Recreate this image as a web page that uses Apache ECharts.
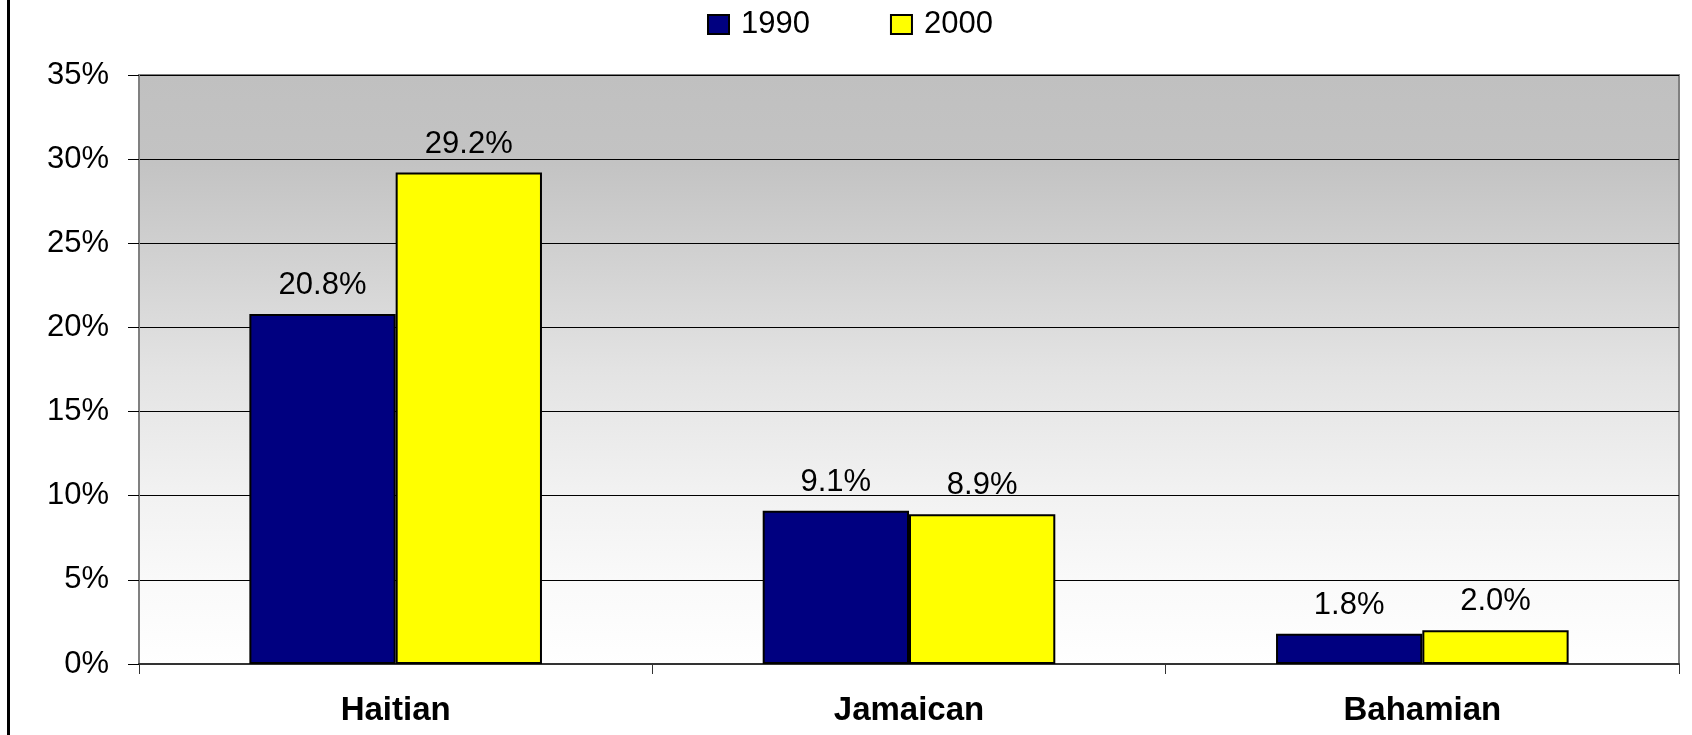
<!DOCTYPE html>
<html>
<head>
<meta charset="utf-8">
<script src="https://cdn.jsdelivr.net/npm/echarts@6/dist/echarts.min.js"></script>
<style>
  html, body { margin: 0; padding: 0; background: #ffffff; }
  #chart { width: 1692px; height: 735px; }
</style>
</head>
<body>
<div id="chart"></div>
<script>
// Share of population by ancestry group, 1990 vs 2000
const categories = ['Haitian', 'Jamaican', 'Bahamian'];
const seriesNames = ['1990', '2000'];
const values1990 = [20.8, 9.1, 1.8];
const values2000 = [29.2, 8.9, 2.0];
const yTicks = { min: 0, max: 35, interval: 5 };

const FONT = '"Liberation Sans", Arial, sans-serif';

const chart = echarts.init(document.getElementById('chart'), null, { renderer: 'canvas' });

function barSeries(name, data, color) {
  return {
    name: name,
    type: 'bar',
    data: data,
    barWidth: '28.5%',
    barGap: '0%',
    itemStyle: { color: color, borderColor: '#000000', borderWidth: 2 },
    label: {
      show: true,
      position: 'top',
      distance: 13,
      formatter: p => p.value.toFixed(1) + '%',
      fontFamily: FONT,
      fontSize: 31,
      color: '#000000'
    }
  };
}

chart.setOption({
  animation: false,
  backgroundColor: '#ffffff',
  legend: {
    left: 702,
    top: 4,
    itemWidth: 21,
    itemHeight: 19,
    itemGap: 80,
    icon: 'rect',
    itemStyle: { borderColor: '#000000', borderWidth: 2 },
    textStyle: { fontFamily: FONT, fontSize: 31, color: '#000000', padding: [0, 0, 0, 7] },
    data: seriesNames
  },
  grid: {
    left: 139,
    right: 13,
    top: 75,
    bottom: 71,
    show: true,
    borderColor: '#808080',
    borderWidth: 2,
    backgroundColor: {
      type: 'linear', x: 0, y: 0, x2: 0, y2: 1,
      colorStops: [
        { offset: 0, color: '#c0c0c0' },
        { offset: 0.15, color: '#c3c3c3' },
        { offset: 0.32, color: '#d2d2d2' },
        { offset: 0.5, color: '#e3e3e3' },
        { offset: 0.7, color: '#f1f1f1' },
        { offset: 0.85, color: '#f9f9f9' },
        { offset: 1, color: '#ffffff' }
      ]
    }
  },
  xAxis: {
    type: 'category',
    data: categories,
    boundaryGap: true,
    axisLine: { lineStyle: { color: '#333333', width: 2 } },
    axisTick: { show: true, length: 10, lineStyle: { color: '#333333', width: 1 } },
    axisLabel: {
      margin: 30,
      fontFamily: FONT,
      fontSize: 33,
      fontWeight: 'bold',
      color: '#000000'
    }
  },
  yAxis: {
    type: 'value',
    min: yTicks.min,
    max: yTicks.max,
    interval: yTicks.interval,
    axisLine: { show: true, lineStyle: { color: '#808080', width: 2 } },
    axisTick: { show: true, length: 11, lineStyle: { color: '#000000', width: 1 } },
    axisLabel: {
      margin: 30,
      formatter: v => v + '%',
      fontFamily: FONT,
      fontSize: 31,
      color: '#000000'
    },
    splitLine: { show: true, lineStyle: { color: '#000000', width: 1 } }
  },
  graphic: [
    {
      type: 'rect',
      left: 7,
      top: 0,
      shape: { width: 3, height: 735 },
      style: { fill: '#000000' }
    }
  ],
  series: [
    barSeries(seriesNames[0], values1990, '#000080'),
    barSeries(seriesNames[1], values2000, '#ffff00')
  ]
});
</script>
</body>
</html>
